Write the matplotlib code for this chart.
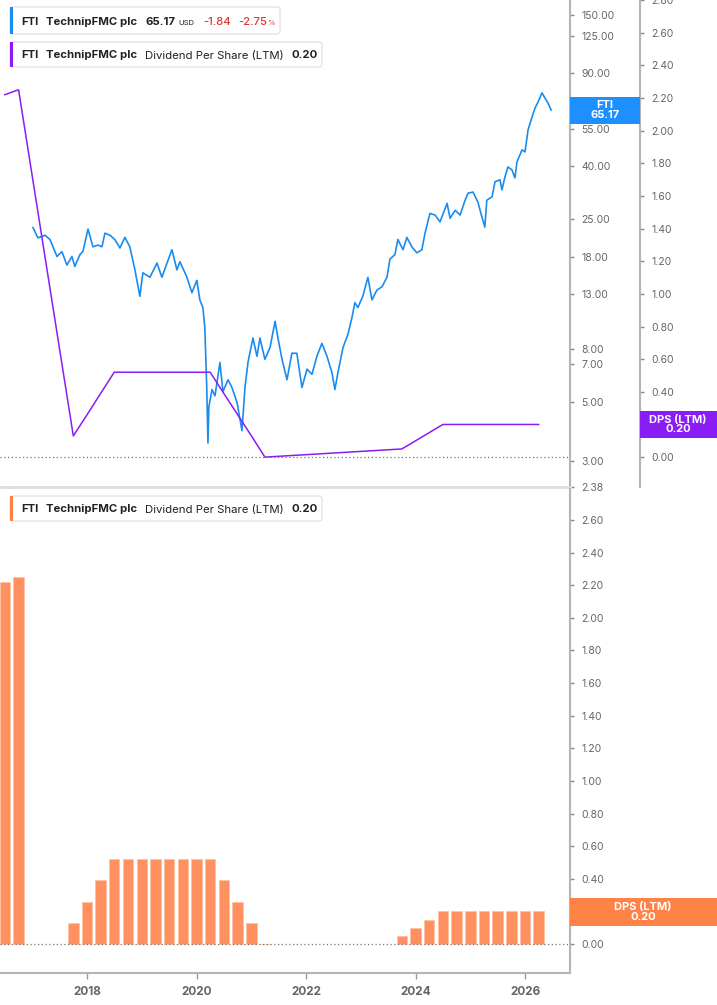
import matplotlib
matplotlib.use("Agg")
import matplotlib.pyplot as plt
import matplotlib.transforms as mtransforms
from matplotlib.patches import FancyBboxPatch, Rectangle
from matplotlib.ticker import FixedLocator, NullLocator, FuncFormatter
import pandas as pd

plt.rcParams['font.family'] = ['Inter', 'DejaVu Sans']

# FTI share price (USD)
price_dates = [
    "2017-01-04", "2017-02-06", "2017-03-25", "2017-04-27", "2017-06-13", "2017-07-16",
    "2017-08-18", "2017-09-21", "2017-10-10", "2017-11-13", "2017-12-03", "2018-01-06",
    "2018-02-08", "2018-03-13", "2018-04-09", "2018-04-29", "2018-06-01", "2018-07-04",
    "2018-08-07", "2018-09-09", "2018-10-12", "2018-11-15", "2018-12-18", "2019-01-07",
    "2019-02-23", "2019-04-11", "2019-05-14", "2019-06-17", "2019-07-20", "2019-08-22",
    "2019-09-11", "2019-10-28", "2019-11-30", "2020-01-02", "2020-01-22", "2020-02-11",
    "2020-02-24", "2020-03-08", "2020-03-16", "2020-03-22", "2020-04-12", "2020-05-02",
    "2020-06-04", "2020-06-24", "2020-07-28", "2020-08-23", "2020-09-26", "2020-10-29",
    "2020-11-18", "2020-12-08", "2021-01-10", "2021-02-06", "2021-02-26", "2021-03-31",
    "2021-05-04", "2021-06-07", "2021-06-26", "2021-07-23", "2021-08-25", "2021-09-27",
    "2021-10-30", "2021-12-03", "2022-01-06", "2022-02-08", "2022-03-13", "2022-04-15",
    "2022-05-19", "2022-06-21", "2022-07-11", "2022-07-31", "2022-09-03", "2022-10-06",
    "2022-11-01", "2022-11-21", "2022-12-11", "2023-01-13", "2023-02-16", "2023-03-15",
    "2023-04-17", "2023-05-21", "2023-06-23", "2023-07-13", "2023-08-15", "2023-09-04",
    "2023-10-08", "2023-11-03", "2023-12-06", "2024-01-08", "2024-02-11", "2024-03-03",
    "2024-04-05", "2024-05-09", "2024-06-11", "2024-07-28", "2024-08-17", "2024-09-20",
    "2024-10-23", "2024-11-25", "2024-12-15", "2025-01-17", "2025-02-19", "2025-03-17",
    "2025-04-06", "2025-04-19", "2025-05-24", "2025-06-13", "2025-07-16", "2025-07-29",
    "2025-08-18", "2025-09-07", "2025-10-04", "2025-10-24", "2025-11-06", "2025-12-10",
    "2025-12-30", "2026-01-19", "2026-02-15", "2026-03-07", "2026-03-27", "2026-04-22",
    "2026-05-12", "2026-06-01", "2026-06-22",
]
price_values = [
    23.2, 21.2, 21.7, 20.9, 18.0, 18.8,
    16.7, 18.0, 16.5, 18.3, 18.8, 22.9,
    19.6, 19.9, 19.6, 22.1, 21.7, 20.9,
    19.4, 21.3, 19.6, 16.0, 12.7, 15.6,
    15.0, 17.0, 15.0, 17.0, 19.1, 16.0,
    17.2, 15.0, 13.1, 14.6, 12.3, 11.5,
    9.7, 5.7, 3.5, 4.8, 5.6, 5.3,
    7.1, 5.5, 6.1, 5.7, 5.0, 3.9,
    5.7, 7.1, 8.8, 7.5, 8.8, 7.3,
    8.1, 10.2, 8.8, 7.3, 6.1, 7.7,
    7.7, 5.7, 6.7, 6.4, 7.5, 8.4,
    7.5, 6.5, 5.6, 6.5, 8.1, 9.1,
    10.5, 12.0, 11.5, 12.7, 15.0, 12.3,
    13.4, 13.8, 15.0, 17.6, 18.3, 20.9,
    19.1, 21.3, 19.6, 18.6, 19.1, 22.1,
    26.3, 25.9, 24.4, 28.7, 25.2, 27.0,
    25.9, 29.5, 31.4, 31.7, 29.0, 25.5,
    23.3, 29.5, 30.4, 34.7, 35.3, 32.3,
    36.2, 39.5, 38.5, 35.9, 41.3, 45.9,
    45.1, 54.7, 61.3, 66.3, 69.9, 75.7,
    72.4, 69.3, 65.17,
]

# Dividend per share (LTM), quarterly
dps_dates = [
    "2016-06-30", "2016-09-30",
    "2017-09-30", "2017-12-31", "2018-03-31", "2018-06-30", "2018-09-30", "2018-12-31",
    "2019-03-31", "2019-06-30", "2019-09-30", "2019-12-31", "2020-03-31", "2020-06-30",
    "2020-09-30", "2020-12-31", "2021-03-31",
    "2023-09-30", "2023-12-31", "2024-03-31", "2024-06-30", "2024-09-30", "2024-12-31",
    "2025-03-31", "2025-06-30", "2025-09-30", "2025-12-31", "2026-03-31",
]
dps_values = [
    2.22, 2.25,
    0.13, 0.26, 0.39, 0.52, 0.52, 0.52,
    0.52, 0.52, 0.52, 0.52, 0.52, 0.39,
    0.26, 0.13, 0.0,
    0.05, 0.10, 0.15, 0.20, 0.20, 0.20,
    0.20, 0.20, 0.20, 0.20, 0.20,
]

price_ticks = [150, 125, 90, 55, 40, 25, 18, 13, 8, 7, 5, 3, 2.38]
dps_ticks = [0.0, 0.2, 0.4, 0.6, 0.8, 1.0, 1.2, 1.4, 1.6, 1.8, 2.0, 2.2, 2.4, 2.6, 2.8]
bar_ticks = [0.0, 0.2, 0.4, 0.6, 0.8, 1.0, 1.2, 1.4, 1.6, 1.8, 2.0, 2.2, 2.4, 2.6]
year_ticks = ["2018", "2020", "2022", "2024", "2026"]

BLUE = "#1a8cf0"
PURPLE = "#8a1cf5"
ORANGE = "#ff9060"
ORANGE_BOX = "#ff8247"
AXIS = "#b4b4b4"
TICKTXT = "#666666"
DARK = "#222222"

px_dates = pd.to_datetime(price_dates)
d_dates = pd.to_datetime(dps_dates)
x_lo, x_hi = pd.Timestamp("2016-05-29"), pd.Timestamp("2026-10-26")

W, H = 717, 1005
fig = plt.figure(figsize=(W / 100, H / 100), dpi=100)
# pixel coords measured from the top-left corner
pix = mtransforms.Affine2D().scale(1.0 / W, -1.0 / H).translate(0, 1) + fig.transFigure

# ---------- top panel: price (log) + DPS line ----------
ax = fig.add_axes([0, 1 - 487 / H, 570 / W, 487 / H])
ax_dps = ax.twinx()

ax.plot(px_dates, price_values, color=BLUE, lw=1.2, zorder=3)
ax.set_yscale("log")
ax.set_ylim(2.38, 171.1)
ax.yaxis.tick_right()
ax.yaxis.set_major_locator(FixedLocator(price_ticks))
ax.yaxis.set_minor_locator(NullLocator())
ax.yaxis.set_major_formatter(FuncFormatter(lambda v, p: f"{v:.2f}"))
ax.set_xlim(x_lo, x_hi)
ax.set_xticks([])
for s in ["top", "left"]:
    ax.spines[s].set_visible(False)
ax.spines["right"].set_color(AXIS)
ax.spines["right"].set_linewidth(1.5)
ax.spines["bottom"].set_color("#dddddd")
ax.spines["bottom"].set_linewidth(2)
ax.tick_params(axis="y", which="both", length=3, width=1, color="#888888",
               labelsize=7.5, labelcolor=TICKTXT, pad=5)

ax_dps.plot(d_dates, dps_values, color=PURPLE, lw=1.1, zorder=2)
ax_dps.axhline(0, color="#777777", lw=0.9, ls=(0, (1, 2)))
ax_dps.set_ylim(-0.183, 2.80)
ax_dps.yaxis.set_major_locator(FixedLocator(dps_ticks))
ax_dps.yaxis.set_major_formatter(FuncFormatter(lambda v, p: f"{v:.2f}"))
ax_dps.spines["right"].set_position(("axes", 640 / 570))
for s in ["top", "left", "bottom"]:
    ax_dps.spines[s].set_visible(False)
ax_dps.spines["right"].set_color(AXIS)
ax_dps.spines["right"].set_linewidth(1.5)
ax_dps.tick_params(axis="y", length=3, width=1, color="#888888",
                   labelsize=7.5, labelcolor=TICKTXT, pad=5)
ax_dps.set_xlim(x_lo, x_hi)

# ---------- bottom panel: DPS bars ----------
axb = fig.add_axes([0, 1 - 973 / H, 570 / W, (973 - 489) / H])
axb.bar(d_dates, dps_values, width=70, color=ORANGE, edgecolor="#ffc2a3", lw=0.6, zorder=2)
axb.axhline(0, color="#777777", lw=0.9, ls=(0, (1, 2)), zorder=3)
axb.set_ylim(-0.178, 2.79)
axb.set_xlim(x_lo, x_hi)
axb.yaxis.tick_right()
axb.yaxis.set_major_locator(FixedLocator(bar_ticks))
axb.yaxis.set_major_formatter(FuncFormatter(lambda v, p: f"{v:.2f}"))
axb.set_xticks([pd.Timestamp(y + "-01-01") for y in year_ticks])
axb.set_xticklabels(year_ticks)
for s in ["top", "left"]:
    axb.spines[s].set_visible(False)
for s in ["right", "bottom"]:
    axb.spines[s].set_color(AXIS)
    axb.spines[s].set_linewidth(1.5)
axb.tick_params(axis="y", length=3, width=1, color="#888888",
                labelsize=7.5, labelcolor=TICKTXT, pad=5)
axb.tick_params(axis="x", length=4, width=1, color="#999999",
                labelsize=8.5, labelcolor=TICKTXT, pad=5)
for lb in axb.get_xticklabels():
    lb.set_fontweight("bold")


# ---------- legend boxes ----------
def legend_box(x0, y0, x1, y1, color):
    fig.patches.append(FancyBboxPatch((x0, y0), x1 - x0, y1 - y0,
                                      boxstyle="round,pad=0,rounding_size=3",
                                      fc="white", ec="#e4e4e4", lw=1, transform=pix))
    fig.patches.append(Rectangle((x0, y0), 3, y1 - y0, fc=color, ec="none", transform=pix))


legend_box(10, 7, 280, 34, BLUE)
fs = 8.2
fig.text(21, 25, "FTI", transform=pix, fontsize=fs, weight="bold", color=DARK)
fig.text(46, 25, "TechnipFMC plc", transform=pix, fontsize=fs, weight="bold", color=DARK)
fig.text(145, 25, "65.17", transform=pix, fontsize=fs, weight="bold", color=DARK)
fig.text(178, 25, "USD", transform=pix, fontsize=5.5, color=DARK)
fig.text(203, 25, "-1.84", transform=pix, fontsize=fs, weight="medium", color="#d93a33")
fig.text(238, 25, "-2.75", transform=pix, fontsize=fs, weight="medium", color="#d93a33")
fig.text(267, 25, "%", transform=pix, fontsize=5.5, color="#d93a33")

for (y0, y1, col) in [(42, 67, PURPLE), (496, 521, ORANGE_BOX)]:
    legend_box(10, y0, 322, y1, col)
    base = (y0 + y1) / 2 + 4
    fig.text(21, base, "FTI", transform=pix, fontsize=fs, weight="bold", color=DARK)
    fig.text(46, base, "TechnipFMC plc", transform=pix, fontsize=fs, weight="bold", color=DARK)
    fig.text(145, base, "Dividend Per Share (LTM)", transform=pix, fontsize=fs, color=DARK)
    fig.text(292, base, "0.20", transform=pix, fontsize=fs, weight="bold", color=DARK)


# ---------- last-value labels on the axes ----------
def value_tag(x0, y0, x1, y1, color, text, cx):
    fig.patches.append(Rectangle((x0, y0), x1 - x0, y1 - y0, fc=color, ec="none",
                                 transform=pix, zorder=5))
    fig.text(cx, (y0 + y1) / 2, text, transform=pix, fontsize=8, weight="bold",
             color="white", ha="center", va="center", linespacing=1.0, zorder=6)


value_tag(570, 97, 640, 124, "#1e8fff", "FTI\n65.17", 605)
value_tag(640, 411, 717, 438, PURPLE, "DPS (LTM)\n0.20", 678)
value_tag(570, 898, 717, 926, ORANGE_BOX, "DPS (LTM)\n0.20", 643)

fig.savefig("out.png", dpi=100)
